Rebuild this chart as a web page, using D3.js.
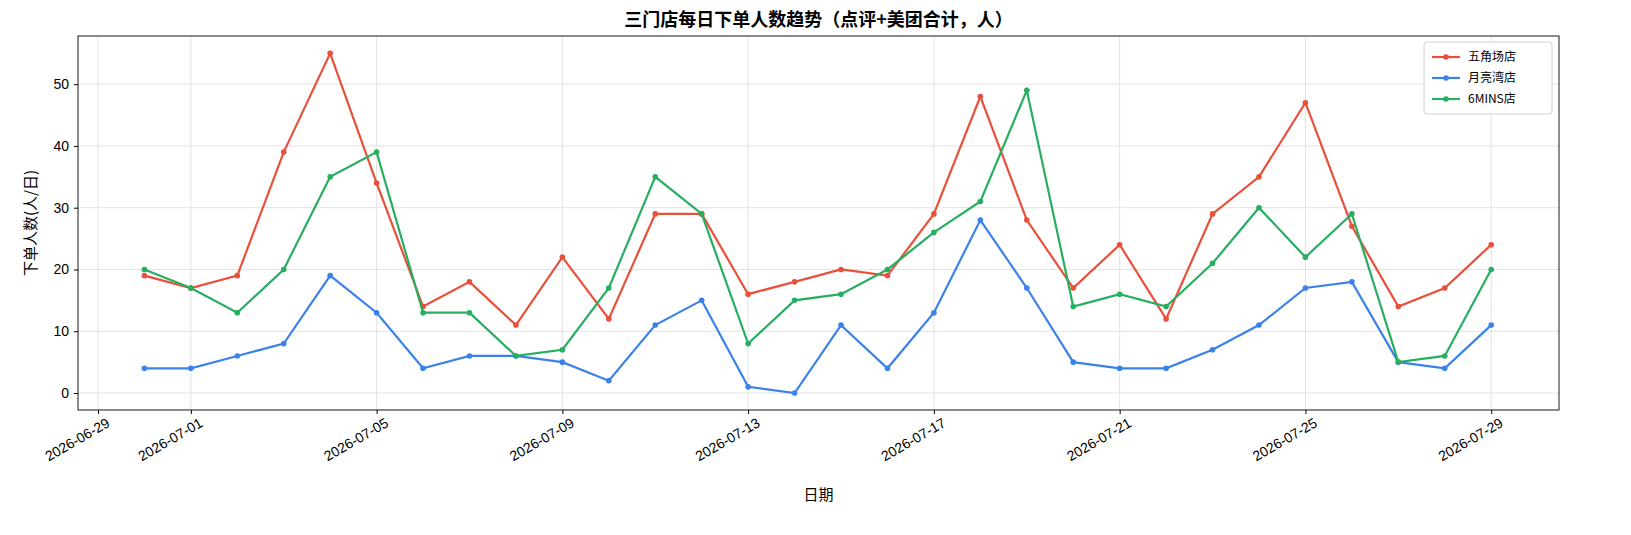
<!DOCTYPE html>
<html><head><meta charset="utf-8">
<script src="https://cdn.jsdelivr.net/npm/d3@7"></script>
<style>body{margin:0;background:#fff;font-family:"Noto Sans CJK SC","DejaVu Sans",sans-serif;}</style>
</head><body><svg id="chart" width="1631" height="535"></svg>
<script>
const startDate = '2026-06-30';
const seriesNames = ['五角场店', '月亮湾店', '6MINS店'];
const seriesColors = ['#e8503a', '#3b82e8', '#27ae60'];
const wujiaochang = [19,17,19,39,55,34,14,18,11,22,12,29,29,16,18,20,19,29,48,28,17,24,12,29,35,47,27,14,17,24];
const yueliangwan = [4,4,6,8,19,13,4,6,6,5,2,11,15,1,0,11,4,13,28,17,5,4,4,7,11,17,18,5,4,11];
const sixmins = [20,17,13,20,35,39,13,13,6,7,17,35,29,8,15,16,20,26,31,49,14,16,14,21,30,22,29,5,6,20];
const xTickLabels = ['2026-06-29','2026-07-01','2026-07-05','2026-07-09','2026-07-13','2026-07-17','2026-07-21','2026-07-25','2026-07-29'];
const yTicks = [0,10,20,30,40,50];

const parse = d3.utcParse('%Y-%m-%d');
const day0 = parse(startDate);
const dates = wujiaochang.map((_, i) => d3.utcDay.offset(day0, i));
const allSeries = [wujiaochang, yueliangwan, sixmins];

const m = {top: 36, right: 72, bottom: 125, left: 78};
const W = 1631, H = 535;
const svg = d3.select('#chart');
const g = svg.append('g').attr('transform', `translate(${m.left},${m.top})`);
const iw = W - m.left - m.right, ih = H - m.top - m.bottom;

const x = d3.scaleUtc()
  .domain([new Date(+day0 - 1.43 * 864e5), new Date(+dates[dates.length - 1] + 1.46 * 864e5)])
  .range([0, iw]);
const y = d3.scaleLinear().domain([-2.75, 57.8]).range([ih, 0]);

const xTickVals = xTickLabels.map(parse);

// grid
g.append('g').selectAll('line').data(xTickVals).join('line')
  .attr('x1', d => x(d)).attr('x2', d => x(d)).attr('y1', 0).attr('y2', ih)
  .attr('stroke', '#e3e3e3');
g.append('g').selectAll('line').data(yTicks).join('line')
  .attr('x1', 0).attr('x2', iw).attr('y1', d => y(d)).attr('y2', d => y(d))
  .attr('stroke', '#e3e3e3');

const xa = g.append('g').attr('transform', `translate(0,${ih})`)
  .call(d3.axisBottom(x).tickValues(xTickVals).tickFormat(d3.utcFormat('%Y-%m-%d')).tickSize(4).tickPadding(6));
xa.selectAll('text').attr('font-size', 14).attr('fill', '#000')
  .attr('text-anchor', 'end').attr('transform', 'rotate(-30)').attr('dx', '0.2em').attr('dy', '0.7em');
const ya = g.append('g').call(d3.axisLeft(y).tickValues(yTicks).tickSize(4).tickPadding(5));
ya.selectAll('text').attr('font-size', 14).attr('fill', '#000');
[xa, ya].forEach(a => { a.select('.domain').remove(); a.selectAll('line').attr('stroke', '#000'); });

g.append('rect').attr('width', iw).attr('height', ih).attr('fill', 'none').attr('stroke', '#000').attr('stroke-width', 0.9);

const line = d3.line().x((d, i) => x(dates[i])).y(d => y(d));
allSeries.forEach((s, k) => {
  g.append('path').datum(s).attr('d', line).attr('fill', 'none')
    .attr('stroke', seriesColors[k]).attr('stroke-width', 2.2);
  g.append('g').selectAll('circle').data(s).join('circle')
    .attr('cx', (d, i) => x(dates[i])).attr('cy', d => y(d)).attr('r', 2.8).attr('fill', seriesColors[k]);
});

// legend
const lg = g.append('g').attr('transform', `translate(${iw - 135},6)`);
lg.append('rect').attr('width', 128).attr('height', 72).attr('rx', 3)
  .attr('fill', '#fff').attr('stroke', '#d0d0d0');
seriesNames.forEach((n, k) => {
  const yy = 15 + k * 21;
  lg.append('line').attr('x1', 8).attr('x2', 36).attr('y1', yy).attr('y2', yy)
    .attr('stroke', seriesColors[k]).attr('stroke-width', 2.2);
  lg.append('circle').attr('cx', 22).attr('cy', yy).attr('r', 2.8).attr('fill', seriesColors[k]);
  lg.append('text').attr('x', 44).attr('y', yy + 4).attr('font-size', 12).text(n);
});

svg.append('text').attr('x', m.left + iw / 2).attr('y', 26).attr('text-anchor', 'middle')
  .attr('font-size', 18).attr('font-weight', 'bold').text('三门店每日下单人数趋势（点评+美团合计，人）');
svg.append('text').attr('x', m.left + iw / 2).attr('y', 500).attr('text-anchor', 'middle')
  .attr('font-size', 15).text('日期');
svg.append('text').attr('transform', `translate(36,${m.top + ih / 2}) rotate(-90)`).attr('text-anchor', 'middle')
  .attr('font-size', 15).text('下单人数(人/日)');
</script></body></html>
